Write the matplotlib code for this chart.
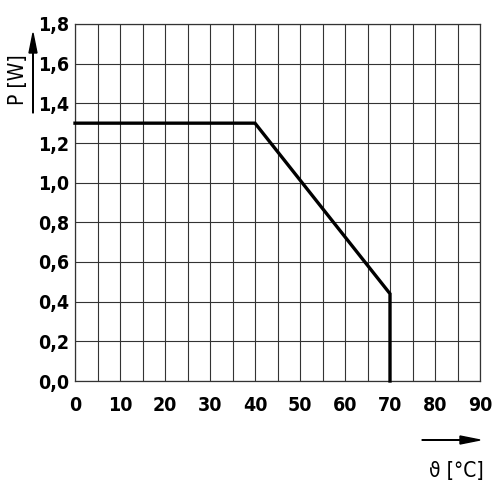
import numpy as np
from matplotlib import pyplot as plt
from matplotlib import patches

temp = [0, 40, 70, 70]
power = [1.3, 1.3, 0.44, 0.0]
xticks = [0, 10, 20, 30, 40, 50, 60, 70, 80, 90]
yticks = [0.0, 0.2, 0.4, 0.6, 0.8, 1.0, 1.2, 1.4, 1.6, 1.8]
ytick_labels = ['0,0', '0,2', '0,4', '0,6', '0,8', '1,0', '1,2', '1,4', '1,6', '1,8']

plt.rcParams['font.family'] = ['DejaVu Sans']
plt.rcParams['font.stretch'] = 'condensed'

fig = plt.figure(figsize=(5, 5), dpi=100)
ax = fig.add_axes([0.15, 0.238, 0.81, 0.714])

ax.plot(temp, power, color='black', lw=2.4, solid_joinstyle='miter', clip_on=False, zorder=3)

ax.set_xlim(0, 90)
ax.set_ylim(0, 1.8)
ax.set_yticks(yticks)
ax.set_yticklabels(ytick_labels)
ax.set_xticks(xticks)
ax.set_xticks(np.arange(5, 90, 10), minor=True)
ax.grid(True, which='both', color='#333333', lw=0.8)
ax.tick_params(which='both', length=0, labelsize=14)
ax.tick_params(axis='x', pad=11)
ax.tick_params(axis='y', pad=4)
for lab in ax.get_xticklabels() + ax.get_yticklabels():
    lab.set_fontweight('bold')
for s in ax.spines.values():
    s.set_color('#333333')
    s.set_linewidth(0.9)

fig.text(0.036, 0.84, 'P [W]', rotation=90, ha='center', va='center', fontsize=15)
fig.patches.append(patches.FancyArrow(0.066, 0.774, 0, 0.16, width=0.001,
    head_width=0.016, head_length=0.04, length_includes_head=True, color='black',
    transform=fig.transFigure))
fig.patches.append(patches.FancyArrow(0.844, 0.12, 0.116, 0, width=0.001,
    head_width=0.016, head_length=0.04, length_includes_head=True, color='black',
    transform=fig.transFigure))
fig.text(0.912, 0.058, 'ϑ [°C]', ha='center', va='center', fontsize=15)

plt.savefig('out.png')
